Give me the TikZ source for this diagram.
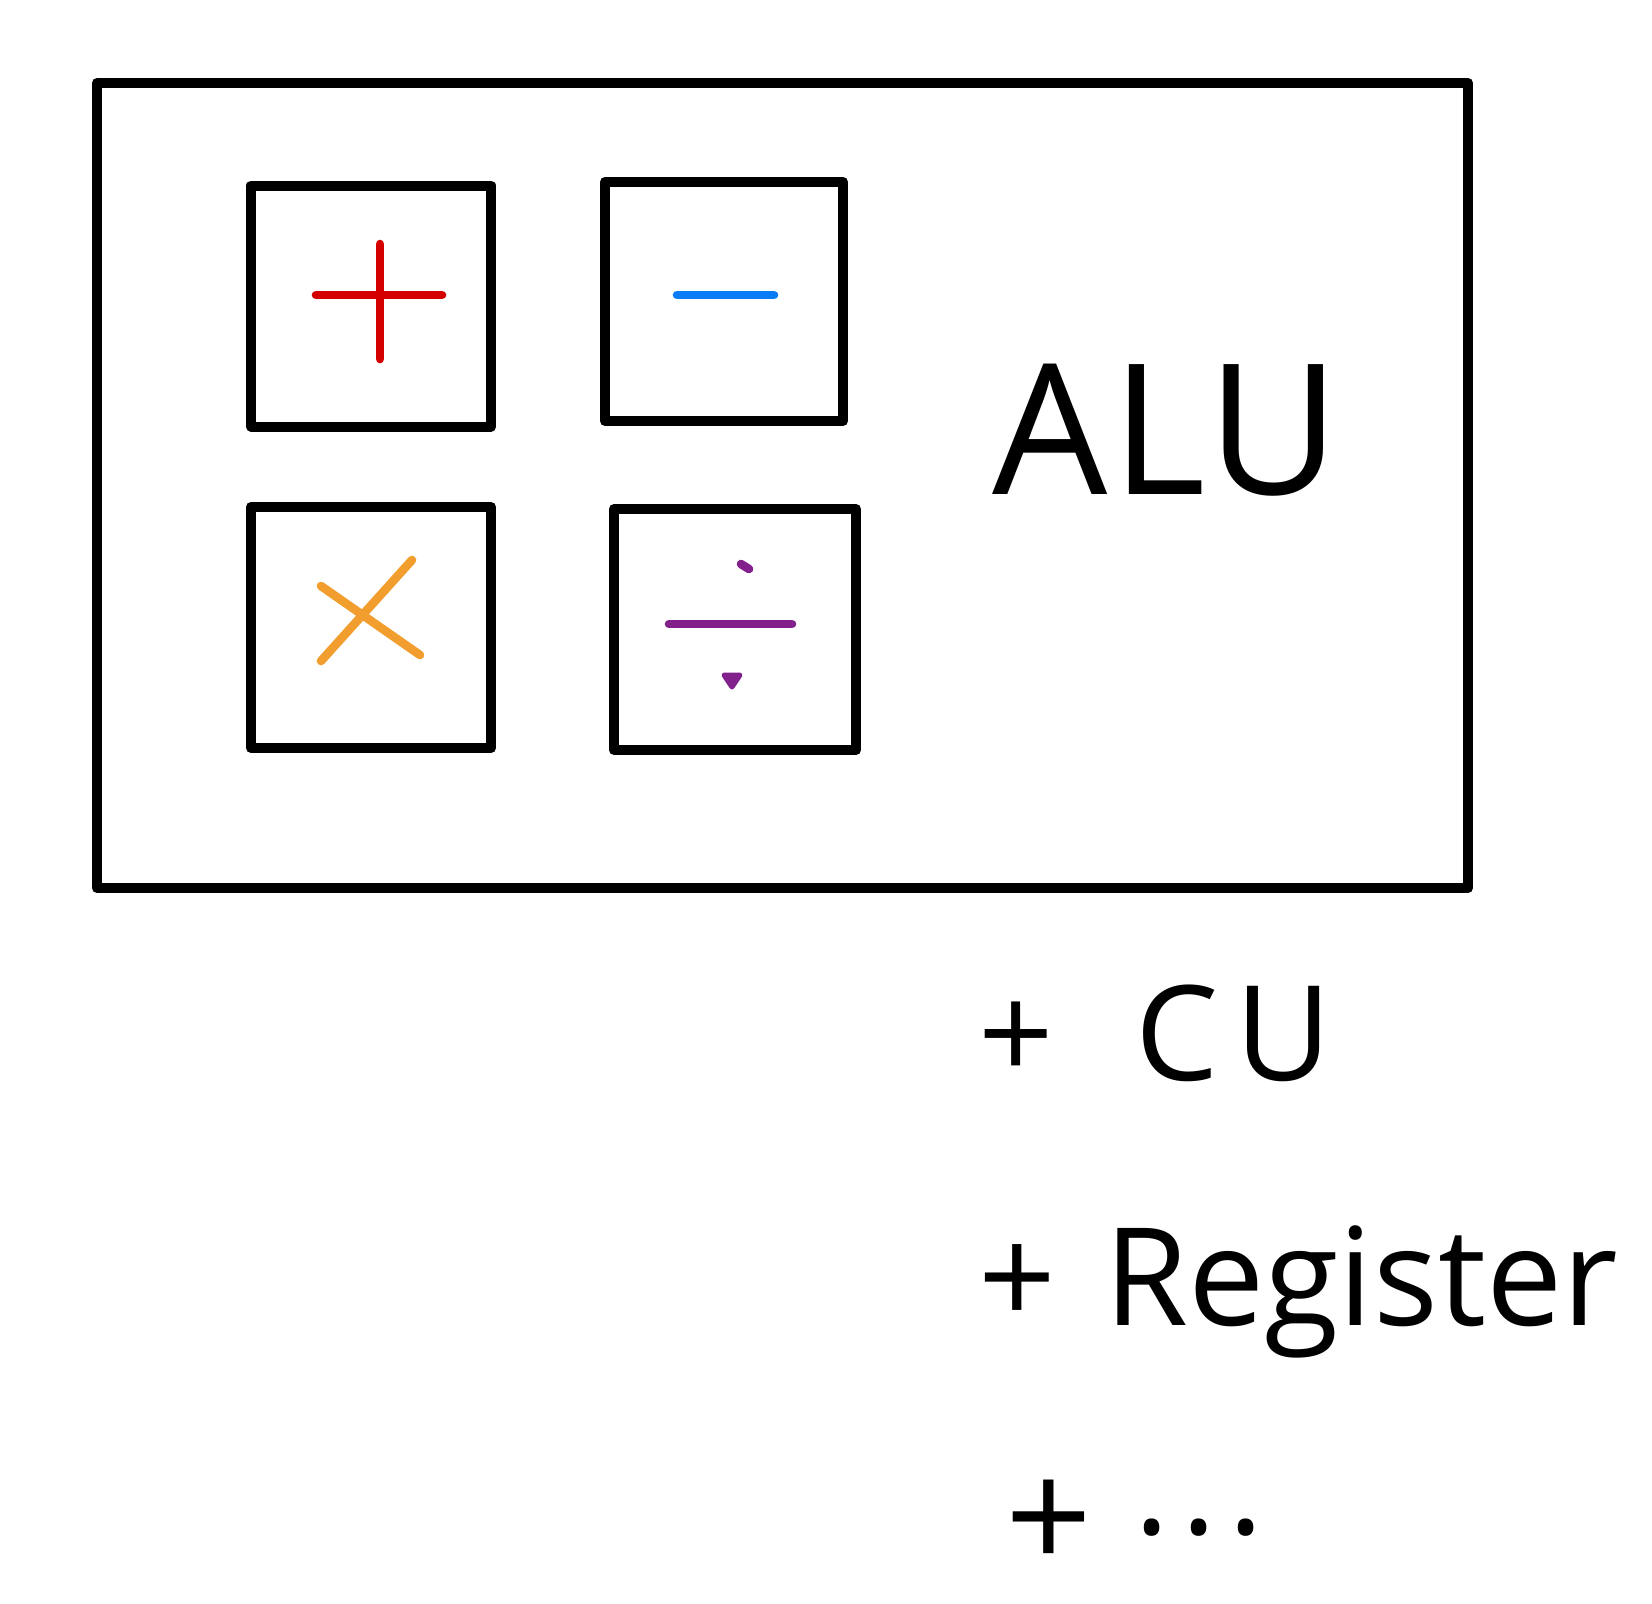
\documentclass[tikz,border=0pt]{standalone}
\usepackage{fontspec}
\setmainfont{Open Sans}
\definecolor{cred}{HTML}{D40000}
\definecolor{cblue}{HTML}{0A7CF5}
\definecolor{corange}{HTML}{F29E2E}
\definecolor{cpurple}{HTML}{82218B}
\begin{document}
\begin{tikzpicture}[x=0.5pt,y=-0.5pt,
  frame/.style={draw=black,line width=5pt,line join=round},
  opbox/.style={draw=black,line width=5pt,line join=round,inner sep=0pt,outer sep=0pt,anchor=north west},
  sym/.style={line width=4.3pt,line cap=round,line join=round},
  label/.style={inner sep=0pt,anchor=base west}]
\useasboundingbox (0,0) rectangle (1652,1603);
\fill[white] (0,0) rectangle (1652,1603);
% outer ALU frame
\draw[frame] (97,83) rectangle (1468,888);
% operator boxes
\node[opbox,minimum width=120pt,minimum height=120.5pt] (plus) at (251,185.5) {};
\node[opbox,minimum width=119pt,minimum height=119.5pt] (minus) at (605,182) {};
\node[opbox,minimum width=120pt,minimum height=120.5pt] (times) at (251,507) {};
\node[opbox,minimum width=121pt,minimum height=120.5pt] (divide) at (614,509) {};
% plus
\draw[sym,cred] (380,244) -- (380,359);
\draw[sym,cred] (316,295) -- (442,295);
% minus
\draw[sym,cblue] (677,295) -- (774,295);
% times
\draw[sym,corange] (321,586) -- (420,655);
\draw[sym,corange] (412,560) -- (321,661);
% divide
\draw[sym,cpurple] (669,624) -- (792,624);
\draw[sym,cpurple] (741,564) -- (749,569);
\fill[cpurple,rounded corners=2pt] (724,675) -- (740,675) -- (732,687) -- cycle;
\draw[cpurple,line width=2.5pt,line join=round] (724,675) -- (740,675) -- (732,687) -- cycle;
% texts
\node[label,font=\fontsize{91}{100}\selectfont] (alu) at (992,494) {A\kern 2pt L\kern 1pt U};
\node[label,font=\fontsize{66}{72}\selectfont] (cu) at (978,1080) {+\kern 41pt C\kern 8pt U};
\node[label,font=\fontsize{68}{76}\selectfont] (reg) at (978,1325) {+\kern 24pt Register};
\node[label,font=\fontsize{76}{84}\selectfont] (more) at (1005,1570) {+\kern 21pt\raisebox{18pt}{\fontsize{66}{72}\selectfont .\kern 6pt .\kern 6pt .}};
\end{tikzpicture}
\end{document}
